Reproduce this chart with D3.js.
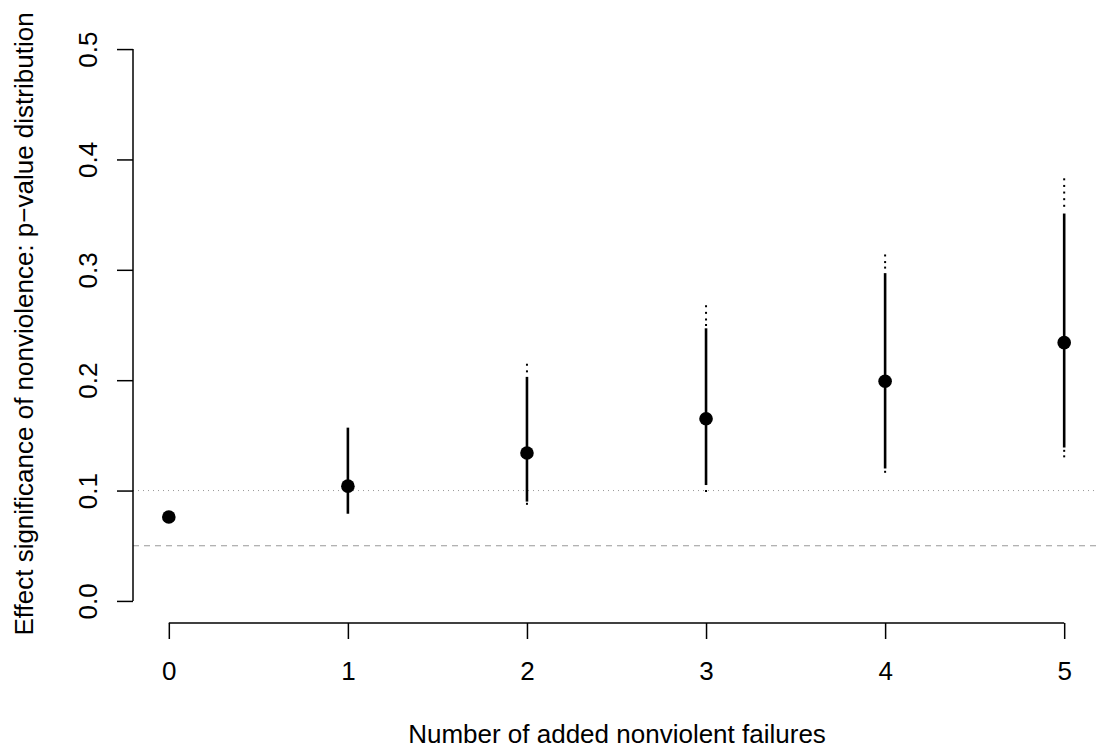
<!DOCTYPE html>
<html><head><meta charset="utf-8">
<script src="https://cdn.jsdelivr.net/npm/d3@7"></script>
<style>body{margin:0;background:#fff;} text{font-family:"Liberation Sans",Arial,sans-serif;fill:#000;}</style>
</head><body>
<svg id="c" width="1096" height="749"></svg>
<script>
const added = [0, 1, 2, 3, 4, 5];
const medianP = [0.076, 0.104, 0.134, 0.165, 0.199, 0.234];
const denseLow = [null, 0.079, 0.090, 0.105, 0.120, 0.139];
const denseHigh = [null, 0.157, 0.203, 0.247, 0.297, 0.351];
const sparseDots = [[], [],
  [0.208, 0.214, 0.088],
  [0.250, 0.255, 0.261, 0.267, 0.0996],
  [0.302, 0.307, 0.313, 0.117],
  [0.358, 0.364, 0.370, 0.376, 0.382, 0.136, 0.131]];
const xTicks = [0, 1, 2, 3, 4, 5];
const yTicks = [0.0, 0.1, 0.2, 0.3, 0.4, 0.5];
const refDotted = 0.1, refDashed = 0.05;

const svg = d3.select("#c");
const x = d3.scaleLinear().domain([-0.2, 5.2]).range([133, 1100]);
const y = d3.scaleLinear().domain([-0.02, 0.52]).range([623, 27]);
const fs = 26;

// reference lines
svg.append("line").attr("x1", 133).attr("x2", 1100).attr("y1", y(refDotted)).attr("y2", y(refDotted))
  .attr("stroke", "#999").attr("stroke-width", 1).attr("stroke-dasharray", "1,4");
svg.append("line").attr("x1", 133).attr("x2", 1100).attr("y1", y(refDashed)).attr("y2", y(refDashed))
  .attr("stroke", "#999").attr("stroke-width", 1.2).attr("stroke-dasharray", "6,5");

// y axis
const yAxis = svg.append("g").attr("transform", "translate(133,0)")
  .call(d3.axisLeft(y).tickValues(yTicks).tickSize(16).tickPadding(0).tickFormat(d3.format(".1f")));
yAxis.select(".domain").attr("d", `M0,${y(0)}V${y(0.5)}`).attr("stroke", "#000").attr("stroke-width", 1.5);
yAxis.selectAll(".tick line").attr("stroke-width", 1.5);
yAxis.selectAll(".tick text").attr("font-size", fs).attr("font-family", "Liberation Sans, Arial, sans-serif")
  .attr("text-anchor", "middle").attr("x", 0).attr("y", 0).attr("dy", "0")
  .attr("transform", "translate(-36,0) rotate(-90)");

// x axis
const xAxis = svg.append("g").attr("transform", "translate(0,623)")
  .call(d3.axisBottom(x).tickValues(xTicks).tickSize(16).tickFormat(d3.format("d")));
xAxis.select(".domain").attr("d", `M${x(0)},0H${x(5)}`).attr("stroke", "#000").attr("stroke-width", 1.5);
xAxis.selectAll(".tick line").attr("stroke-width", 1.5);
xAxis.selectAll(".tick text").attr("font-size", fs).attr("font-family", "Liberation Sans, Arial, sans-serif")
  .attr("y", 57).attr("dy", "0");

// dense ranges
const idx = d3.range(added.length).filter(i => denseLow[i] !== null);
svg.selectAll("line.rng").data(idx).join("line").attr("class", "rng")
  .attr("x1", i => x(added[i])).attr("x2", i => x(added[i]))
  .attr("y1", i => y(denseLow[i])).attr("y2", i => y(denseHigh[i]))
  .attr("stroke", "#000").attr("stroke-width", 2.6);

// sparse dots
const sd = [];
sparseDots.forEach((arr, i) => arr.forEach(v => sd.push({xv: added[i], yv: v})));
svg.selectAll("rect.sd").data(sd).join("rect").attr("class", "sd")
  .attr("x", d => x(d.xv) - 1).attr("y", d => y(d.yv) - 1).attr("width", 2).attr("height", 2).attr("fill", "#000");

// medians
svg.selectAll("circle.m").data(added).join("circle").attr("class", "m")
  .attr("cx", (d) => x(d)).attr("cy", (d, i) => y(medianP[i])).attr("r", 6.8).attr("fill", "#000");

// labels
svg.append("text").attr("x", 617).attr("y", 743).attr("text-anchor", "middle").attr("font-size", fs)
  .text("Number of added nonviolent failures");
svg.append("text").attr("transform", `translate(33,324) rotate(-90)`).attr("text-anchor", "middle").attr("font-size", fs)
  .text("Effect significance of nonviolence: p\u2212value distribution");
</script>
</body></html>
